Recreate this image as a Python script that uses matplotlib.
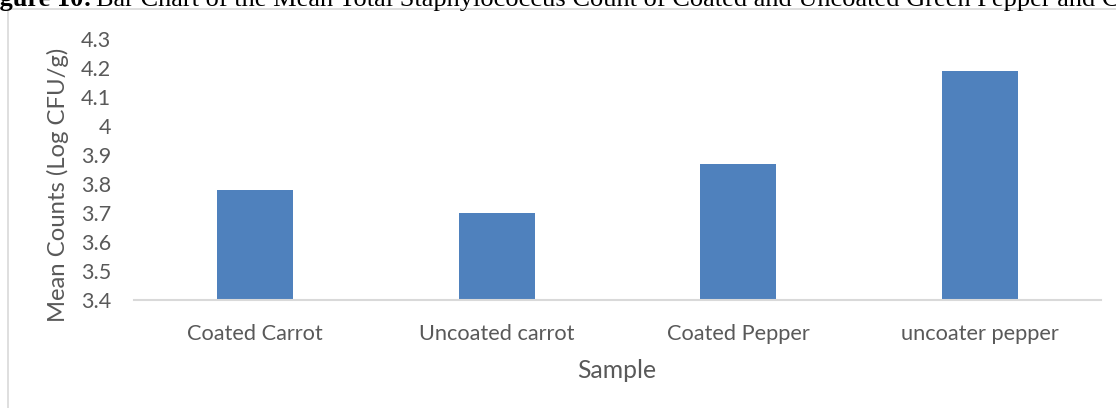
import matplotlib.pyplot as plt
from matplotlib.patches import Rectangle

samples = ['Coated Carrot', 'Uncoated carrot', 'Coated Pepper', 'uncoater pepper']
mean_counts = [3.78, 3.70, 3.87, 4.19]
yticks = [3.4, 3.5, 3.6, 3.7, 3.8, 3.9, 4.0, 4.1, 4.2, 4.3]
ytick_labels = ['3.4', '3.5', '3.6', '3.7', '3.8', '3.9', '4', '4.1', '4.2', '4.3']

W, H = 1116, 408
fig = plt.figure(figsize=(W / 100, H / 100), dpi=100)
plt.rcParams['font.family'] = ['Lato', 'DejaVu Sans']

# chart frame (cut by the page edge)
fig.patches.append(Rectangle((8 / W, -0.1), 1.2, (H - 9) / H + 0.1, transform=fig.transFigure,
                             fill=False, edgecolor='#d9d9d9', linewidth=1.2))

# clipped caption above the chart
cap_y = (H - 6) / H
bold = fig.text(0, cap_y, 'Figure 10:', family='Liberation Serif', weight='bold',
                fontsize=19, va='baseline', ha='left')
fig.canvas.draw()
r = fig.canvas.get_renderer()
fi = fig.text(0, cap_y, 'Fi', family='Liberation Serif', weight='bold', fontsize=19, va='baseline')
fi_w = fi.get_window_extent(r).width
fi.remove()
bold.set_x(-(fi_w + 1) / W)
bw = bold.get_window_extent(r).x1
fig.text(bw / W + 5 / W, cap_y, 'Bar Chart of the Mean Total Staphylococcus Count of Coated and Uncoated Green Pepper and Carrot',
         family='Liberation Serif', fontsize=19, va='baseline', ha='left')

ax = fig.add_axes([134 / W, (H - 300) / H, (1101 - 134) / W, (300 - 39) / H])
x = range(len(samples))
ax.bar(x, mean_counts, width=0.314, color='#4f81bd', bottom=0)
ax.set_xlim(-0.5, 3.5)
ax.set_ylim(3.4, 4.3)
ax.set_yticks(yticks)
ax.set_yticklabels(ytick_labels)
ax.set_xticks(list(x))
ax.set_xticklabels(samples)
ax.tick_params(length=0, colors='#595959')
ax.tick_params(axis='y', pad=16.5, labelsize=15.5)
ax.tick_params(axis='x', pad=17, labelsize=15.7)
for s in ['top', 'right', 'left']:
    ax.spines[s].set_visible(False)
ax.spines['bottom'].set_color('#d9d9d9')
ax.spines['bottom'].set_linewidth(1.5)

fig.text(617 / W, (H - 370) / H, 'Sample', fontsize=17.8, color='#595959', ha='center', va='center')
fig.text(58 / W, (H - 185) / H, 'Mean Counts (Log CFU/g)', fontsize=17.2, color='#595959',
         ha='center', va='center', rotation=90)

plt.savefig('out.png', dpi=100)
